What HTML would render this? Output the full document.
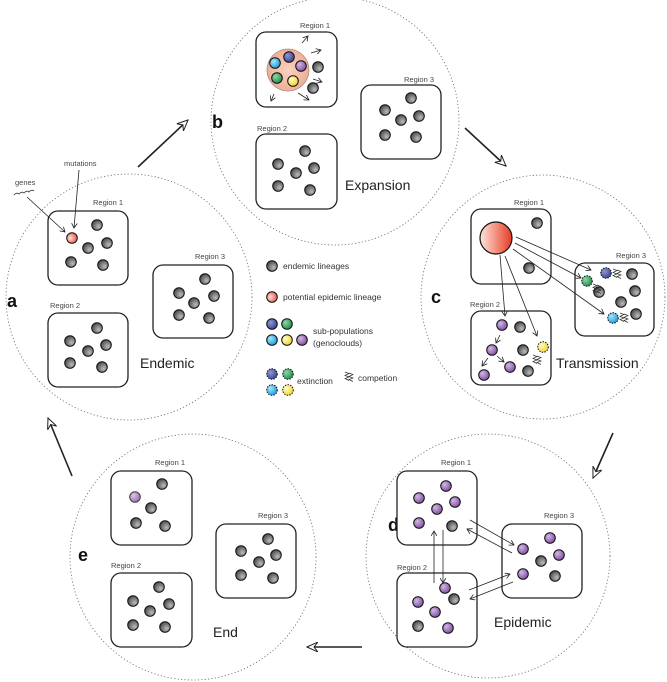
<!DOCTYPE html>
<html><head><meta charset="utf-8"><style>
html,body{margin:0;padding:0;background:#fff;}
svg{display:block;font-family:"Liberation Sans",sans-serif;}
.lab{font-size:7.5px;fill:#444;}
.big{font-size:14px;fill:#222;}
.let{font-size:18px;font-weight:bold;fill:#111;}
.leg{font-size:8.5px;fill:#333;}
.circ{fill:none;stroke:#666;stroke-width:0.8;stroke-dasharray:1.2 2.2;}
.box{fill:#fff;stroke:#222;stroke-width:1.3;}
.ar{stroke:#222;stroke-width:0.8;fill:none;marker-end:url(#sm);}
.big-ar{stroke:#222;stroke-width:1.6;fill:none;marker-end:url(#bg);}
</style></head><body>
<svg width="667" height="682" viewBox="0 0 667 682" xmlns="http://www.w3.org/2000/svg">
<defs>
<radialGradient id="g" cx="0.65" cy="0.65" r="0.7"><stop offset="0" stop-color="#bbb"/><stop offset="1" stop-color="#444"/></radialGradient>
<radialGradient id="r" cx="0.35" cy="0.5" r="0.8"><stop offset="0" stop-color="#fde0d8"/><stop offset="1" stop-color="#e8301e"/></radialGradient>
<linearGradient id="rl" x1="0" x2="1"><stop offset="0" stop-color="#fde6dc"/><stop offset="1" stop-color="#e83a22"/></linearGradient>
<radialGradient id="pk" cx="0.5" cy="0.5" r="0.6"><stop offset="0" stop-color="#f8d2c0"/><stop offset="1" stop-color="#eda88e"/></radialGradient>
<radialGradient id="pu" cx="0.35" cy="0.35" r="0.7"><stop offset="0" stop-color="#d3b6e6"/><stop offset="1" stop-color="#7d4f9e"/></radialGradient>
<radialGradient id="bl" cx="0.35" cy="0.35" r="0.7"><stop offset="0" stop-color="#8d95d6"/><stop offset="1" stop-color="#3c438c"/></radialGradient>
<radialGradient id="gr" cx="0.35" cy="0.35" r="0.7"><stop offset="0" stop-color="#8fd6a6"/><stop offset="1" stop-color="#1f8a4a"/></radialGradient>
<radialGradient id="cy" cx="0.35" cy="0.35" r="0.7"><stop offset="0" stop-color="#a6e6fb"/><stop offset="1" stop-color="#1a9ad8"/></radialGradient>
<radialGradient id="ye" cx="0.35" cy="0.35" r="0.7"><stop offset="0" stop-color="#fffbd0"/><stop offset="1" stop-color="#efd52a"/></radialGradient>
<marker id="sm" markerWidth="6" markerHeight="6" refX="5" refY="3" orient="auto" markerUnits="userSpaceOnUse"><path d="M0,0 L5,3 L0,6" fill="none" stroke="#222" stroke-width="0.8"/></marker>
<marker id="bg" markerWidth="12" markerHeight="10" refX="11" refY="5" orient="auto" markerUnits="userSpaceOnUse"><path d="M0,0 L11,5 L0,10 L4,5 Z" fill="#fff" stroke="#222" stroke-width="1"/></marker>
<g id="gc"><circle r="5.3" fill="url(#g)" stroke="#111" stroke-width="1"/></g>
<g id="pc"><circle r="5.3" fill="url(#pu)" stroke="#111" stroke-width="1"/></g>
<g id="zz"><path d="M-1,-5 L3,-3.5 L-1,-1.5 L3,0 L-1,1.5 L3,3.5 M3,-4 L7,-2.5 L3,-0.5 L7,1 L3,2.5 L7,4.5" fill="none" stroke="#333" stroke-width="0.7"/></g>
</defs>

<!-- circles -->
<circle class="circ" cx="129" cy="297" r="123"/>
<circle class="circ" cx="335" cy="121" r="124"/>
<circle class="circ" cx="543" cy="297" r="122"/>
<circle class="circ" cx="488" cy="556" r="122"/>
<circle class="circ" cx="193" cy="557" r="123"/>

<!-- big arrows -->
<line class="big-ar" x1="138" y1="167" x2="188" y2="120"/>
<line class="big-ar" x1="465" y1="128" x2="506" y2="166"/>
<line class="big-ar" x1="613" y1="433" x2="593" y2="478"/>
<line class="big-ar" x1="362" y1="647" x2="307" y2="647"/>
<line class="big-ar" x1="72" y1="476" x2="48" y2="418"/>

<!-- ===== a ===== -->
<text class="let" x="7" y="307">a</text>
<text class="lab" x="93" y="205">Region 1</text>
<rect class="box" x="48" y="211" width="80" height="74" rx="10"/>
<text class="lab" x="195" y="259">Region 3</text>
<rect class="box" x="153" y="265" width="80" height="73" rx="10"/>
<text class="lab" x="50" y="308">Region 2</text>
<rect class="box" x="48" y="313" width="80" height="74" rx="10"/>
<text class="big" x="140" y="368">Endemic</text>
<circle cx="72" cy="238" r="5.3" fill="url(#r)" stroke="#111" stroke-width="1"/>
<use href="#gc" x="97" y="225"/><use href="#gc" x="107" y="243"/><use href="#gc" x="88" y="248"/><use href="#gc" x="71" y="262"/><use href="#gc" x="103" y="265"/>
<use href="#gc" x="205" y="279"/><use href="#gc" x="179" y="293"/><use href="#gc" x="214" y="296"/><use href="#gc" x="194" y="303"/><use href="#gc" x="179" y="315"/><use href="#gc" x="209" y="318"/>
<use href="#gc" x="97" y="328"/><use href="#gc" x="70" y="341"/><use href="#gc" x="106" y="345"/><use href="#gc" x="88" y="351"/><use href="#gc" x="70" y="363"/><use href="#gc" x="102" y="367"/>
<text class="lab" x="15" y="185">genes</text>
<path d="M14,195 q3,-3 5,-1 q3,-3 5,-1 q3,-3 5,-1 q3,-3 5,-1" fill="none" stroke="#333" stroke-width="0.8"/>
<text class="lab" x="64" y="166">mutations</text>
<line class="ar" x1="27" y1="197" x2="65" y2="232"/>
<line class="ar" x1="79" y1="170" x2="74" y2="228"/>

<!-- ===== b ===== -->
<text class="let" x="212" y="128">b</text>
<text class="lab" x="300" y="28">Region 1</text>
<rect class="box" x="256" y="32" width="81" height="75" rx="10"/>
<text class="lab" x="404" y="82">Region 3</text>
<rect class="box" x="361" y="85" width="80" height="74" rx="10"/>
<text class="lab" x="257" y="131">Region 2</text>
<rect class="box" x="256" y="134" width="81" height="75" rx="10"/>
<text class="big" x="345" y="190">Expansion</text>
<circle cx="288" cy="70" r="21" fill="url(#pk)" stroke="#a88" stroke-width="0.8"/>
<circle cx="275" cy="63" r="5.3" fill="url(#cy)" stroke="#111"/>
<circle cx="289" cy="57" r="5.3" fill="url(#bl)" stroke="#111"/>
<circle cx="301" cy="66" r="5.3" fill="url(#pu)" stroke="#111"/>
<circle cx="277" cy="78" r="5.3" fill="url(#gr)" stroke="#111"/>
<circle cx="293" cy="81" r="5.3" fill="url(#ye)" stroke="#111"/>
<use href="#gc" x="318" y="67"/><use href="#gc" x="313" y="88"/>
<line class="ar" x1="302" y1="43" x2="308" y2="36"/>
<line class="ar" x1="311" y1="53" x2="321" y2="50"/>
<line class="ar" x1="313" y1="79" x2="322" y2="82"/>
<line class="ar" x1="298" y1="93" x2="309" y2="100"/>
<line class="ar" x1="274" y1="94" x2="271" y2="101"/>
<use href="#gc" x="411" y="98"/><use href="#gc" x="385" y="110"/><use href="#gc" x="419" y="116"/><use href="#gc" x="401" y="120"/><use href="#gc" x="385" y="135"/><use href="#gc" x="416" y="137"/>
<use href="#gc" x="305" y="151"/><use href="#gc" x="278" y="164"/><use href="#gc" x="314" y="168"/><use href="#gc" x="296" y="173"/><use href="#gc" x="278" y="186"/><use href="#gc" x="310" y="190"/>

<!-- ===== c ===== -->
<text class="let" x="431" y="303">c</text>
<text class="lab" x="514" y="205">Region 1</text>
<rect class="box" x="471" y="209" width="80" height="75" rx="10"/>
<text class="lab" x="616" y="258">Region 3</text>
<rect class="box" x="575" y="263" width="79" height="73" rx="10"/>
<text class="lab" x="470" y="307">Region 2</text>
<rect class="box" x="471" y="311" width="80" height="74" rx="10"/>
<text class="big" x="556" y="368">Transmission</text>
<circle cx="496" cy="238" r="16" fill="url(#rl)" stroke="#111" stroke-width="1.2"/>
<use href="#gc" x="537" y="223"/><use href="#gc" x="529" y="268"/>
<line class="ar" x1="500" y1="255" x2="505" y2="316"/>
<line class="ar" x1="505" y1="256" x2="537" y2="336"/>
<line class="ar" x1="516" y1="237" x2="591" y2="270"/>
<line class="ar" x1="515" y1="243" x2="581" y2="278"/>
<line class="ar" x1="513" y1="249" x2="604" y2="314"/>
<circle cx="606" cy="273" r="5.3" fill="url(#bl)" stroke="#111" stroke-dasharray="1.5 1.2"/>
<circle cx="587" cy="281" r="5.3" fill="url(#gr)" stroke="#111" stroke-dasharray="1.5 1.2"/>
<circle cx="613" cy="318" r="5.3" fill="url(#cy)" stroke="#111" stroke-dasharray="1.5 1.2"/>
<use href="#gc" x="632" y="274"/><use href="#gc" x="599" y="292"/><use href="#gc" x="635" y="291"/><use href="#gc" x="621" y="302"/><use href="#gc" x="636" y="314"/>
<use href="#zz" x="614" y="274"/><use href="#zz" x="594" y="289"/><use href="#zz" x="621" y="318"/>
<use href="#pc" x="502" y="325"/><use href="#gc" x="520" y="327"/><use href="#pc" x="492" y="350"/><use href="#gc" x="523" y="350"/>
<circle cx="543" cy="347" r="5.3" fill="url(#ye)" stroke="#111" stroke-dasharray="1.5 1.2"/>
<use href="#pc" x="510" y="367"/><use href="#pc" x="484" y="375"/><use href="#gc" x="528" y="371"/>
<use href="#zz" x="534" y="360"/>
<line class="ar" x1="500" y1="335" x2="496" y2="343"/>
<line class="ar" x1="488" y1="358" x2="482" y2="366"/>
<line class="ar" x1="497" y1="356" x2="504" y2="362"/>

<!-- legend -->
<use href="#gc" x="272" y="266"/><text class="leg" x="283" y="269">endemic lineages</text>
<circle cx="272" cy="297" r="5.3" fill="url(#r)" stroke="#111"/><text class="leg" x="283" y="300">potential epidemic lineage</text>
<circle cx="272" cy="324" r="5.3" fill="url(#bl)" stroke="#111"/>
<circle cx="287" cy="324" r="5.3" fill="url(#gr)" stroke="#111"/>
<circle cx="272" cy="340" r="5.3" fill="url(#cy)" stroke="#111"/>
<circle cx="287" cy="340" r="5.3" fill="url(#ye)" stroke="#111"/>
<circle cx="302" cy="340" r="5.3" fill="url(#pu)" stroke="#111"/>
<text class="leg" x="313" y="334">sub-populations</text>
<text class="leg" x="313" y="346">(genoclouds)</text>
<circle cx="272" cy="374" r="5.3" fill="url(#bl)" stroke="#111" stroke-dasharray="1.5 1.2"/>
<circle cx="288" cy="374" r="5.3" fill="url(#gr)" stroke="#111" stroke-dasharray="1.5 1.2"/>
<circle cx="272" cy="390" r="5.3" fill="url(#cy)" stroke="#111" stroke-dasharray="1.5 1.2"/>
<circle cx="288" cy="390" r="5.3" fill="url(#ye)" stroke="#111" stroke-dasharray="1.5 1.2"/>
<text class="leg" x="297" y="384">extinction</text>
<use href="#zz" x="346" y="377"/>
<text class="leg" x="358" y="381">competion</text>

<!-- ===== d ===== -->
<text class="let" x="388" y="531">d</text>
<text class="lab" x="441" y="465">Region 1</text>
<rect class="box" x="397" y="471" width="80" height="74" rx="10"/>
<text class="lab" x="544" y="518">Region 3</text>
<rect class="box" x="502" y="524" width="80" height="74" rx="10"/>
<text class="lab" x="397" y="570">Region 2</text>
<rect class="box" x="397" y="573" width="80" height="74" rx="10"/>
<text class="big" x="494" y="627">Epidemic</text>
<use href="#pc" x="446" y="486"/><use href="#pc" x="419" y="498"/><use href="#pc" x="455" y="502"/><use href="#pc" x="437" y="509"/><use href="#pc" x="419" y="523"/><use href="#gc" x="452" y="526"/>
<use href="#pc" x="550" y="538"/><use href="#pc" x="523" y="549"/><use href="#pc" x="559" y="555"/><use href="#pc" x="523" y="574"/><use href="#gc" x="541" y="561"/><use href="#gc" x="555" y="576"/>
<use href="#pc" x="445" y="588"/><use href="#pc" x="418" y="602"/><use href="#pc" x="435" y="612"/><use href="#pc" x="448" y="628"/><use href="#gc" x="454" y="599"/><use href="#gc" x="418" y="626"/>
<line class="ar" x1="434" y1="583" x2="434" y2="531"/>
<line class="ar" x1="443" y1="530" x2="443" y2="583"/>
<line class="ar" x1="470" y1="520" x2="514" y2="545"/>
<line class="ar" x1="512" y1="553" x2="467" y2="529"/>
<line class="ar" x1="469" y1="590" x2="510" y2="574"/>
<line class="ar" x1="513" y1="582" x2="470" y2="599"/>

<!-- ===== e ===== -->
<text class="let" x="78" y="561">e</text>
<text class="lab" x="155" y="465">Region 1</text>
<rect class="box" x="111" y="471" width="81" height="74" rx="10"/>
<text class="lab" x="258" y="518">Region 3</text>
<rect class="box" x="216" y="524" width="80" height="74" rx="10"/>
<text class="lab" x="111" y="568">Region 2</text>
<rect class="box" x="111" y="573" width="81" height="74" rx="10"/>
<text class="big" x="213" y="637">End</text>
<circle cx="135" cy="497" r="5.3" fill="url(#pu)" stroke="#111" opacity="0.8"/>
<use href="#gc" x="162" y="484"/><use href="#gc" x="151" y="508"/><use href="#gc" x="136" y="523"/><use href="#gc" x="165" y="526"/>
<use href="#gc" x="268" y="539"/><use href="#gc" x="241" y="551"/><use href="#gc" x="276" y="555"/><use href="#gc" x="259" y="562"/><use href="#gc" x="241" y="575"/><use href="#gc" x="273" y="578"/>
<use href="#gc" x="159" y="587"/><use href="#gc" x="133" y="601"/><use href="#gc" x="169" y="604"/><use href="#gc" x="150" y="611"/><use href="#gc" x="133" y="625"/><use href="#gc" x="165" y="627"/>
</svg>
</body></html>
